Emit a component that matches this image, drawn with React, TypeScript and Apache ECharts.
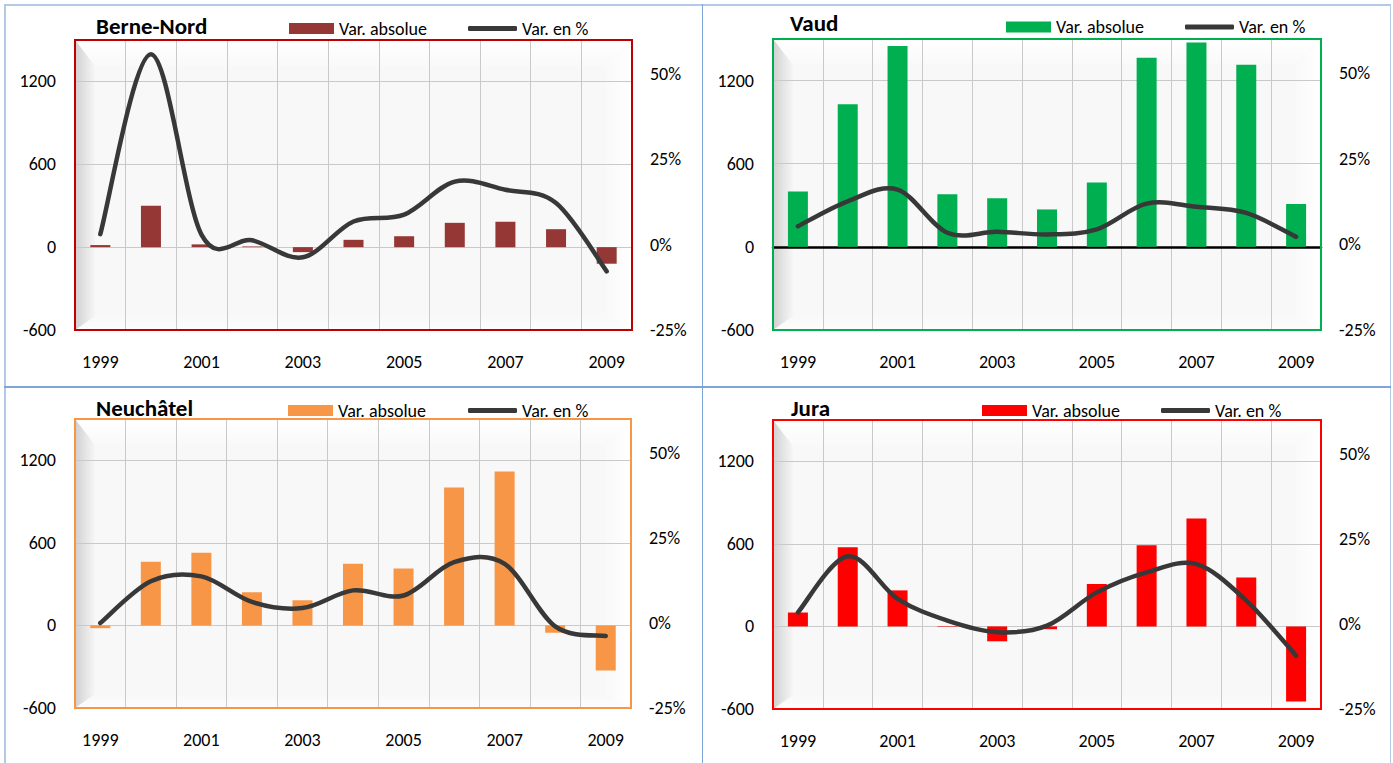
import React, { useEffect, useRef } from "react";
import * as echarts from "echarts";

// ---------- data ----------
const years = ["1999", "2000", "2001", "2002", "2003", "2004", "2005", "2006", "2007", "2008", "2009"];

const berneAbs = [15, 300, 20, 5, -36, 53, 79, 176, 183, 130, -120];
const bernePct = [3.1, 55.8, 2.9, 1.3, -3.7, 6.8, 8.8, 18.5, 16.1, 12.2, -7.8];

const vaudAbs = [400, 1030, 1450, 380, 350, 270, 465, 1365, 1475, 1315, 310];
const vaudPct = [5.3, 12.6, 16.0, 3.4, 3.7, 2.9, 4.4, 11.9, 11.0, 9.2, 2.2];

const neuchAbs = [-20, 463, 528, 241, 183, 448, 414, 1002, 1118, -53, -328];
const neuchPct = [0, 12.3, 13.7, 6.2, 4.4, 9.6, 8.1, 17.9, 17.4, -1.0, -3.8];

const juraAbs = [101, 576, 262, -5, -108, -20, 308, 590, 785, 356, -545];
const juraPct = [3.4, 19.9, 7.4, 1.0, -2.4, -0.5, 9.3, 15.2, 17.6, 6.9, -9.3];

// axis scales
const leftMin = -600;
const leftMax = 1500;
const leftInterval = 600;
const rightMin = -25;
const rightMax = 60;
const rightInterval = 25;

const absName = "Var. absolue";
const pctName = "Var. en %";

const FONT = 'Carlito, Calibri, "Liberation Sans Narrow", "DejaVu Sans Condensed", "Open Sans", sans-serif';
const LINE_COLOR = "#383838";

type Panel = {
  title: string;
  abs: number[];
  pct: number[];
  barColor: string;
  borderColor: string;
  box: { left: number; top: number; width: number; height: number };
  grid: { left: number; top: number; width: number; height: number };
  titleLeft: number;
  titleTop: number;
  legTop: number;
  leg1: number;
  leg2: number;
  zeroLine: boolean;
};

const panels: Panel[] = [
  {
    title: "Berne-Nord",
    abs: berneAbs,
    pct: bernePct,
    barColor: "#953735",
    borderColor: "#c00000",
    box: { left: 0, top: 0, width: 700, height: 385 },
    grid: { left: 75, top: 40, width: 557, height: 290 },
    titleLeft: 96,
    titleTop: 14.5,
    legTop: 19.5,
    leg1: 289,
    leg2: 468,
    zeroLine: false,
  },
  {
    title: "Vaud",
    abs: vaudAbs,
    pct: vaudPct,
    barColor: "#00b050",
    borderColor: "#00b050",
    box: { left: 700, top: 0, width: 693, height: 385 },
    grid: { left: 73, top: 39, width: 548, height: 291 },
    titleLeft: 90,
    titleTop: 11,
    legTop: 18,
    leg1: 306,
    leg2: 485,
    zeroLine: true,
  },
  {
    title: "Neuchâtel",
    abs: neuchAbs,
    pct: neuchPct,
    barColor: "#f79646",
    borderColor: "#f79646",
    box: { left: 0, top: 385, width: 700, height: 378 },
    grid: { left: 75, top: 34, width: 556, height: 289 },
    titleLeft: 96,
    titleTop: 11.5,
    legTop: 16.5,
    leg1: 288,
    leg2: 468,
    zeroLine: false,
  },
  {
    title: "Jura",
    abs: juraAbs,
    pct: juraPct,
    barColor: "#ff0000",
    borderColor: "#ff0000",
    box: { left: 700, top: 385, width: 693, height: 378 },
    grid: { left: 73, top: 35, width: 548, height: 289 },
    titleLeft: 91,
    titleTop: 11.5,
    legTop: 16.5,
    leg1: 282,
    leg2: 461,
    zeroLine: false,
  },
];

function decorations(g: Panel["grid"], borderColor: string) {
  const L = g.left, T = g.top, R = g.left + g.width, B = g.top + g.height;
  const bw = 26; // bevel depth (top / right)
  const lw = 20; // left bevel
  const bb = 14; // bottom bevel
  return [
    { type: "rect", z: -2, silent: true, shape: { x: L, y: T, width: g.width, height: g.height }, style: { fill: "#f8f8f8" } },
    {
      type: "polygon", z: -1, silent: true,
      shape: { points: [[L, T], [R, T], [R - bw, T + bw], [L + lw, T + bw]] },
      style: { fill: new echarts.graphic.LinearGradient(0, 0, 0, 1, [{ offset: 0, color: "#ffffff" }, { offset: 1, color: "#f9f9f9" }]) },
    },
    {
      type: "polygon", z: -1, silent: true,
      shape: { points: [[R, T], [R, B], [R - bw, B - bb], [R - bw, T + bw]] },
      style: { fill: new echarts.graphic.LinearGradient(1, 0, 0, 0, [{ offset: 0, color: "#ffffff" }, { offset: 1, color: "#f9f9f9" }]) },
    },
    {
      type: "polygon", z: -1, silent: true,
      shape: { points: [[L, B], [R, B], [R - bw, B - bb], [L + lw, B - bb]] },
      style: { fill: new echarts.graphic.LinearGradient(0, 1, 0, 0, [{ offset: 0, color: "#fdfdfd" }, { offset: 1, color: "#f8f8f8" }]) },
    },
    {
      type: "polygon", z: -1, silent: true,
      shape: { points: [[L, T], [L + lw, T + bw], [L + lw, B - bb], [L, B]] },
      style: { fill: new echarts.graphic.LinearGradient(0, 0, 1, 0, [{ offset: 0, color: "#cfcfcf" }, { offset: 0.5, color: "#e4e4e4" }, { offset: 1, color: "#f6f6f6" }]) },
    },
    {
      type: "rect", z: 1, silent: true,
      shape: { x: L, y: T, width: g.width, height: g.height },
      style: { fill: "none", stroke: borderColor, lineWidth: 2 },
    },
  ];
}

// Catmull-Rom style smoothed path through the points (Excel-like smoothing)
function smoothPath(pts: number[][]): string {
  if (!pts.length) return "";
  let d = `M${pts[0][0]},${pts[0][1]}`;
  for (let i = 0; i < pts.length - 1; i++) {
    const p0 = pts[i - 1] || pts[i];
    const p1 = pts[i];
    const p2 = pts[i + 1];
    const p3 = pts[i + 2] || p2;
    const c1x = p1[0] + (p2[0] - p0[0]) / 6;
    const c1y = p1[1] + (p2[1] - p0[1]) / 6;
    const c2x = p2[0] - (p3[0] - p1[0]) / 6;
    const c2y = p2[1] - (p3[1] - p1[1]) / 6;
    d += ` C${c1x},${c1y} ${c2x},${c2y} ${p2[0]},${p2[1]}`;
  }
  return d;
}

function buildOption(p: Panel) {
  const textBase = { fontFamily: FONT, fontSize: 18, color: "#000" };
  return {
    animation: false,
    textStyle: { fontFamily: FONT },
    title: {
      text: p.title,
      left: p.titleLeft,
      top: p.titleTop,
      padding: 0,
      textStyle: { fontFamily: FONT, fontSize: 23, color: "#000", fontWeight: "bold" },
    },
    legend: [
      {
        data: [absName],
        left: p.leg1,
        top: p.legTop,
        padding: 0,
        itemWidth: 45,
        itemHeight: 11,
        icon: "rect",
        textStyle: { ...textBase },
        selectedMode: false,
      },
      {
        data: [{ name: pctName, icon: "roundRect", itemStyle: { color: LINE_COLOR } }],
        left: p.leg2,
        top: p.legTop,
        padding: 0,
        itemWidth: 49,
        itemHeight: 5,
        textStyle: { ...textBase },
        selectedMode: false,
      },
    ],
    grid: {
      ...p.grid,
      show: false,
      containLabel: false,
      outerBoundsMode: "none",
    },
    graphic: { elements: decorations(p.grid, p.borderColor) },
    xAxis: {
      type: "category",
      data: years,
      boundaryGap: true,
      axisLine: p.zeroLine
        ? { show: true, onZero: true, onZeroAxisIndex: 0, lineStyle: { color: "#000", width: 2.5 } }
        : { show: false },
      axisTick: { show: false },
      axisLabel: { ...textBase, interval: 1, margin: 23 },
      splitLine: { show: true, interval: 0, lineStyle: { color: "#c9c9c9", width: 1 } },
    },
    yAxis: [
      {
        type: "value",
        min: leftMin,
        max: leftMax,
        interval: leftInterval,
        axisLine: { show: false },
        axisTick: { show: false },
        axisLabel: {
          ...textBase,
          margin: 19,
          showMaxLabel: false,
          formatter: (v: number) => (v > 1200 ? "" : String(v)),
        },
        splitLine: { show: true, lineStyle: { color: "#c9c9c9", width: 1 } },
      },
      {
        type: "value",
        min: rightMin,
        max: rightMax,
        interval: rightInterval,
        axisLine: { show: false },
        axisTick: { show: false },
        axisLabel: {
          ...textBase,
          margin: 18,
          showMaxLabel: false,
          formatter: (v: number) => (v > 50 ? "" : v + "%"),
        },
        splitLine: { show: false },
      },
    ],
    series: [
      {
        name: absName,
        type: "bar",
        data: p.abs,
        barWidth: 20,
        yAxisIndex: 0,
        itemStyle: { color: p.barColor },
        z: 2,
      },
      {
        name: pctName,
        type: "custom",
        xAxisIndex: 0,
        yAxisIndex: 1,
        data: p.pct.map((v, i) => [i, v]),
        encode: { x: 0, y: 1 },
        itemStyle: { color: LINE_COLOR },
        z: 3,
        clip: false,
        renderItem: (params: any, api: any) => {
          if (params.dataIndex !== 0) return null;
          const pts = p.pct.map((v, i) => api.coord([i, v]));
          return {
            type: "path",
            shape: { pathData: smoothPath(pts) },
            style: { fill: "none", stroke: LINE_COLOR, lineWidth: 4.5, lineCap: "round", lineJoin: "round" },
          };
        },
      },
    ],
  };
}

function ChartPanel({ p }: { p: Panel }) {
  const ref = useRef<HTMLDivElement>(null);
  useEffect(() => {
    if (!ref.current) return;
    const chart = echarts.init(ref.current, null, { renderer: "svg" });
    chart.setOption(buildOption(p) as any);
    return () => chart.dispose();
  }, [p]);
  return (
    <div
      ref={ref}
      style={{ position: "absolute", left: p.box.left, top: p.box.top, width: p.box.width, height: p.box.height }}
    />
  );
}

const lineOuter = "#b4c9e6";
const lineInner = "#7ea5d8";

export default function App() {
  return (
    <div style={{ position: "absolute", left: 0, top: 0, width: 1393, height: 763, background: "#fff", overflow: "hidden" }}>
      {panels.map((p) => (
        <ChartPanel key={p.title} p={p} />
      ))}
      <div style={{ position: "absolute", left: 4, top: 4, width: 1387, height: 1.5, background: lineOuter }} />
      <div style={{ position: "absolute", left: 4, top: 4, width: 1.5, height: 759, background: lineOuter }} />
      <div style={{ position: "absolute", left: 1389.5, top: 4, width: 1.5, height: 759, background: lineOuter }} />
      <div style={{ position: "absolute", left: 701.5, top: 4, width: 1.5, height: 759, background: lineInner }} />
      <div style={{ position: "absolute", left: 4, top: 385.5, width: 1387, height: 2, background: lineInner }} />
    </div>
  );
}
